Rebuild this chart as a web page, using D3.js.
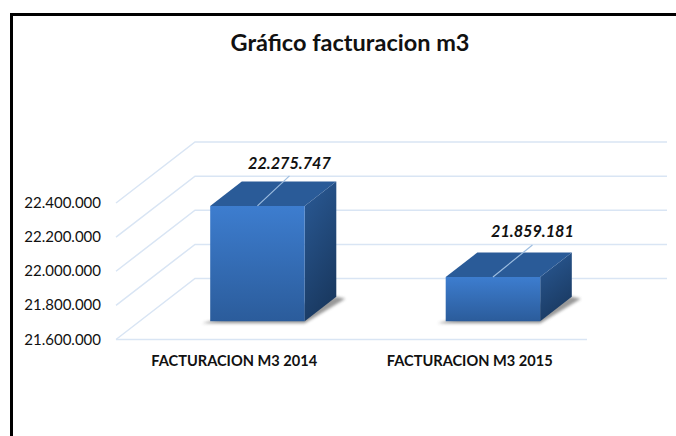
<!DOCTYPE html>
<html>
<head>
<meta charset="utf-8">
<script src="https://cdn.jsdelivr.net/npm/d3@7"></script>
<style>
  html, body { margin: 0; padding: 0; background: #fff; }
  svg { display: block; }
  text { font-family: Lato, "Open Sans", sans-serif; fill: #111; }
</style>
</head>
<body>
<div id="chart"></div>
<script>
let title = "Gráfico facturacion m3";
let categories = ["FACTURACION M3 2014", "FACTURACION M3 2015"];
let values = [22275747, 21859181];
let tickValues = [21600000, 21800000, 22000000, 22200000, 22400000];
let tickLabels = ["21.600.000", "21.800.000", "22.000.000", "22.200.000", "22.400.000"];
let valueLabels = ["22.275.747", "21.859.181"];

let width = 676, height = 436;

let svg = d3.select("#chart").append("svg")
    .attr("width", width)
    .attr("height", height);

let defs = svg.append("defs");

let front = defs.append("linearGradient").attr("id", "front")
    .attr("x1", 0).attr("y1", 0).attr("x2", 0).attr("y2", 1);
front.append("stop").attr("offset", "0%").attr("stop-color", "#3d7dcf");
front.append("stop").attr("offset", "100%").attr("stop-color", "#2b5c9b");

let side = defs.append("linearGradient").attr("id", "side")
    .attr("x1", 0).attr("y1", 0).attr("x2", 0.35).attr("y2", 1);
side.append("stop").attr("offset", "0%").attr("stop-color", "#2a5a96");
side.append("stop").attr("offset", "100%").attr("stop-color", "#1a3a62");

defs.append("filter").attr("id", "blur")
    .attr("x", "-20%").attr("y", "-50%").attr("width", "140%").attr("height", "200%")
  .append("feGaussianBlur").attr("stdDeviation", 1.6);

// the fake 3d: value goes up, x goes across, depth pushes up and to the right
let xScale = d3.scaleBand().domain(categories).range([116, 587]);
let yScale = d3.scaleLinear().domain([21600000, 22400000]).range([339.5, 203]);
let depthX = d3.scaleLinear().domain([0, 1]).range([0, 79]);
let depthY = d3.scaleLinear().domain([0, 1]).range([0, -61]);

let barWidth = 94.5;
let barDepth0 = 0.3;
let barDepth1 = 0.7;

// how far each leader line runs from the bar top, picked by eye per bar
let leaderDx = [32, 39.5];
let leaderDy = [-30, -32];
let labelGap = [7, 7.5];

function project(x, value, depth) {
  return [x + depthX(depth), yScale(value) + depthY(depth)];
}

// gridlines, side wall then back wall
let grid = svg.append("g")
    .attr("fill", "none")
    .attr("stroke", "#d9e5f4")
    .attr("stroke-width", 1.5);

tickValues.forEach(function(v) {
  let pts = [project(116, v, 0), project(116, v, 1), project(588, v, 1)];
  grid.append("path").attr("d", d3.line()(pts));
});
grid.append("path")
    .attr("d", d3.line()([project(116, tickValues[0], 0), project(587, tickValues[0], 0)]));

// y axis labels, no line
svg.append("g").selectAll("text")
    .data(tickValues)
    .join("text")
    .attr("x", 101)
    .attr("y", function(d) { return yScale(d) + 5; })
    .attr("text-anchor", "end")
    .attr("font-size", 15)
    .text(function(d, i) { return tickLabels[i]; });

svg.append("g").selectAll("text")
    .data(categories)
    .join("text")
    .attr("x", function(d) { return xScale(d) + xScale.bandwidth() / 2 + 0.5; })
    .attr("y", 366)
    .attr("text-anchor", "middle")
    .attr("font-size", 14.6)
    .attr("font-weight", 700)
    .text(function(d) { return d; });

let bars = svg.append("g").selectAll("g")
    .data(values)
    .join("g");

function corners(d, i) {
  let x0 = xScale(categories[i]) + xScale.bandwidth() / 2 - barWidth / 2;
  let x1 = x0 + barWidth;
  let b = tickValues[0];
  return {
    fbl: project(x0, b, barDepth0), fbr: project(x1, b, barDepth0),
    ftl: project(x0, d, barDepth0), ftr: project(x1, d, barDepth0),
    bbr: project(x1, b, barDepth1),
    btl: project(x0, d, barDepth1), btr: project(x1, d, barDepth1),
    mid: project((x0 + x1) / 2, d, barDepth0)
  };
}

// floor shadow
bars.append("path")
    .attr("fill", "#555")
    .attr("opacity", 0.6)
    .attr("filter", "url(#blur)")
    .attr("d", function(d, i) {
      let c = corners(d, i);
      return d3.line()([
        [c.fbl[0] - 8, c.fbl[1] + 2],
        [c.fbr[0], c.fbr[1] + 2],
        [c.bbr[0] + 9, c.bbr[1] + 2],
        [c.bbr[0], c.bbr[1]],
        c.fbl
      ]) + "Z";
    });

bars.append("path")
    .attr("fill", "url(#side)")
    .attr("d", function(d, i) {
      let c = corners(d, i);
      return d3.line()([c.ftr, c.btr, c.bbr, c.fbr]) + "Z";
    });

bars.append("path")
    .attr("fill", "#2a5b98")
    .attr("d", function(d, i) {
      let c = corners(d, i);
      return d3.line()([c.ftl, c.btl, c.btr, c.ftr]) + "Z";
    });

bars.append("path")
    .attr("fill", "url(#front)")
    .attr("d", function(d, i) {
      let c = corners(d, i);
      return d3.line()([c.ftl, c.ftr, c.fbr, c.fbl]) + "Z";
    });

// leader line from the top of the bar up to its label
bars.append("path")
    .attr("fill", "none")
    .attr("stroke", "#9dbde0")
    .attr("stroke-width", 1.2)
    .attr("d", function(d, i) {
      let c = corners(d, i);
      return d3.line()([c.mid, [c.mid[0] + leaderDx[i], c.mid[1] + leaderDy[i]]]);
    });

bars.append("text")
    .attr("x", function(d, i) { return corners(d, i).mid[0] + leaderDx[i]; })
    .attr("y", function(d, i) { return corners(d, i).mid[1] + leaderDy[i] - labelGap[i]; })
    .attr("text-anchor", "middle")
    .attr("font-size", 16.2)
    .attr("font-weight", 700)
    .attr("font-style", "italic")
    .text(function(d, i) { return valueLabels[i]; });

svg.append("text")
    .attr("x", 350)
    .attr("y", 51)
    .attr("text-anchor", "middle")
    .attr("font-size", 23.5)
    .attr("font-weight", 700)
    .text(title);

// frame, open at the right and at the bottom
svg.append("path")
    .attr("fill", "none")
    .attr("stroke", "#000")
    .attr("stroke-width", 3)
    .attr("d", d3.line()([[11.5, height], [11.5, 14.5], [width, 14.5]]));
</script>
</body>
</html>
